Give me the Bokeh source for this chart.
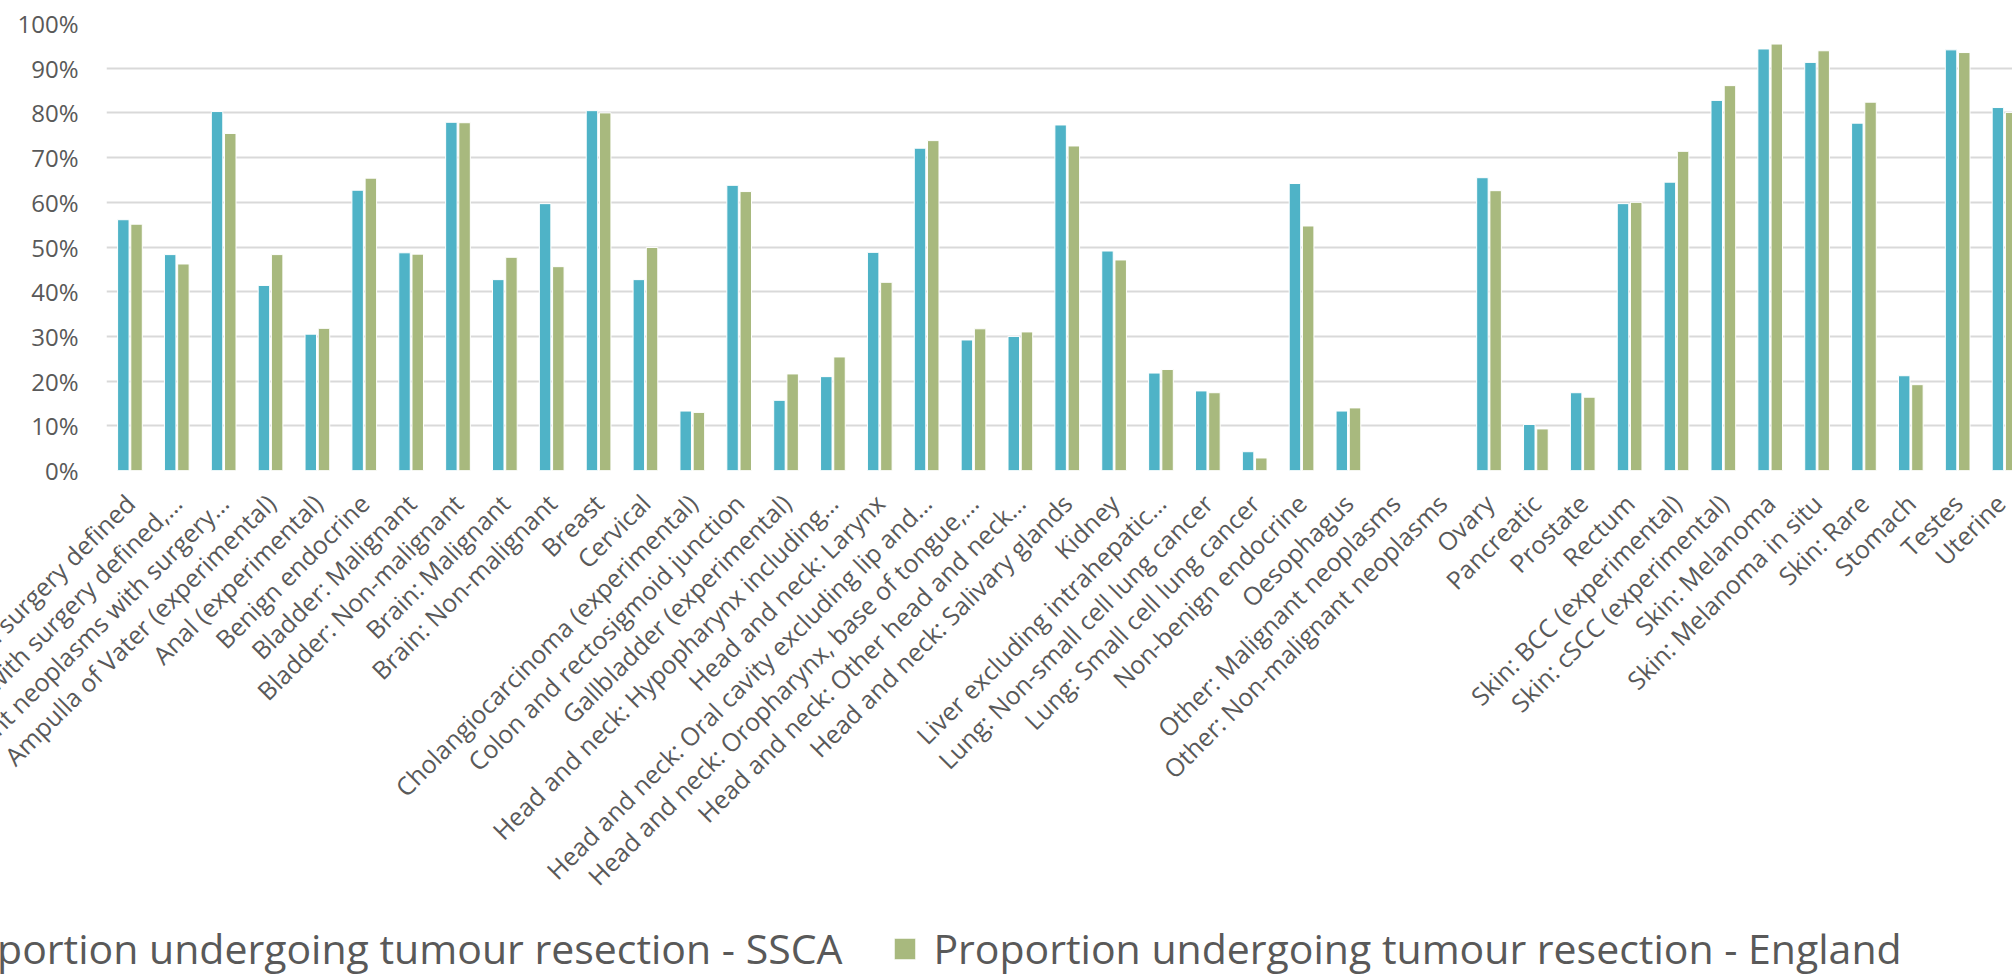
import math
from bokeh.plotting import figure
from bokeh.layouts import column
from bokeh.models import (ColumnDataSource, Range1d, FixedTicker, PrintfTickFormatter,
                          Legend, LegendItem)
from bokeh.transform import dodge
from bokeh.embed import file_html
from bokeh.resources import INLINE

categories = [
    "All neoplasms with surgery defined",
    "All neoplasms with surgery defined,\u2026",
    "All malignant neoplasms with surgery\u2026",
    "Ampulla of Vater (experimental)",
    "Anal (experimental)",
    "Benign endocrine",
    "Bladder: Malignant",
    "Bladder: Non-malignant",
    "Brain: Malignant",
    "Brain: Non-malignant",
    "Breast",
    "Cervical",
    "Cholangiocarcinoma (experimental)",
    "Colon and rectosigmoid junction",
    "Gallbladder (experimental)",
    "Head and neck: Hypopharynx including\u2026",
    "Head and neck: Larynx",
    "Head and neck: Oral cavity excluding lip and\u2026",
    "Head and neck: Oropharynx, base of tongue,\u2026",
    "Head and neck: Other head and neck\u2026",
    "Head and neck: Salivary glands",
    "Kidney",
    "Liver excluding intrahepatic\u2026",
    "Lung: Non-small cell lung cancer",
    "Lung: Small cell lung cancer",
    "Non-benign endocrine",
    "Oesophagus",
    "Other: Malignant neoplasms",
    "Other: Non-malignant neoplasms",
    "Ovary",
    "Pancreatic",
    "Prostate",
    "Rectum",
    "Skin: BCC (experimental)",
    "Skin: cSCC (experimental)",
    "Skin: Melanoma",
    "Skin: Melanoma in situ",
    "Skin: Rare",
    "Stomach",
    "Testes",
    "Uterine",
]

ssca = [56.1, 48.3, 80.3, 41.4, 30.5, 62.7, 48.7, 77.9, 42.7, 59.7,
        80.5, 42.7, 13.3, 63.8, 15.7, 21.0, 48.8, 72.1, 29.2, 30.0,
        77.3, 49.1, 21.8, 17.8, 4.2, 64.2, 13.3, None, None, 65.5,
        10.3, 17.4, 59.7, 64.5, 82.8, 94.3, 91.3, 77.7, 21.2, 94.1,
        81.2]
england = [55.1, 46.2, 75.4, 48.3, 31.8, 65.4, 48.4, 77.8, 47.7, 45.6,
           80.0, 49.9, 13.0, 62.4, 21.6, 25.4, 42.1, 73.8, 31.7, 31.0,
           72.6, 47.1, 22.6, 17.4, 2.8, 54.7, 14.0, None, None, 62.6,
           9.3, 16.4, 60.0, 71.4, 86.1, 95.4, 93.9, 82.4, 19.2, 93.5,
           80.1]

series_names = ["Proportion undergoing tumour resection - SSCA",
                "Proportion undergoing tumour resection - England"]
y_ticks = list(range(0, 101, 10))

BLUE = "#4FB3C7"
GREEN = "#A8B97E"
GRID = "#D9D9D9"
TEXT = "#595959"
FONT = "Open Sans"

xpos = [i + 0.5 for i in range(len(categories))]


def make_source(vals):
    xs, tops = [], []
    for x, v in zip(xpos, vals):
        if v is not None:
            xs.append(x)
            tops.append(v)
    return ColumnDataSource(dict(x=xs, top=tops))


src_s = make_source(ssca)
src_e = make_source(england)

W = 2012
H_MAIN = 908
H_LEG = 68
p = figure(width=W, height=H_MAIN, output_backend="svg", toolbar_location=None,
           x_range=Range1d(0, 40.67), y_range=Range1d(0, 100),
           min_border_left=106, min_border_right=0, min_border_top=23,
           min_border_bottom=438)
p.outline_line_color = None
p.background_fill_color = "white"
p.border_fill_color = "white"

bw = 0.245
r1 = p.vbar(x=dodge("x", -0.141, range=p.x_range), top="top", width=bw, bottom=0,
            source=src_s, fill_color=BLUE, line_color="white", line_width=1)
r2 = p.vbar(x=dodge("x", 0.141, range=p.x_range), top="top", width=bw, bottom=0,
            source=src_e, fill_color=GREEN, line_color="white", line_width=1)

p.xgrid.visible = False
p.ygrid.ticker = FixedTicker(ticks=y_ticks)
p.ygrid.grid_line_color = GRID
p.ygrid.grid_line_width = 2
p.ygrid.level = "underlay"

ya = p.yaxis[0]
ya.ticker = FixedTicker(ticks=y_ticks)
ya.formatter = PrintfTickFormatter(format="%d%%")
ya.axis_line_color = None
ya.major_tick_line_color = None
ya.minor_tick_line_color = None
ya.major_tick_out = 0
ya.major_tick_in = 0
ya.major_label_standoff = 28
ya.major_label_text_font = FONT
ya.major_label_text_font_size = "24px"
ya.major_label_text_color = TEXT

# a blank tick at the range start keeps the first real label in place
xa = p.xaxis[0]
xa.ticker = FixedTicker(ticks=[0.0] + xpos)
overrides = {0.0: " "}
overrides.update({x: c for x, c in zip(xpos, categories)})
xa.major_label_overrides = overrides
xa.axis_line_color = None
xa.major_tick_line_color = None
xa.minor_tick_line_color = None
xa.major_tick_out = 0
xa.major_tick_in = 0
xa.major_label_standoff = 28
xa.major_label_orientation = math.pi / 4
xa.major_label_text_font = FONT
xa.major_label_text_font_size = "25px"
xa.major_label_text_color = TEXT

# legend strip below the chart (its frame spans the whole strip)
pl = figure(width=W, height=H_LEG, output_backend="svg", toolbar_location=None,
            x_range=Range1d(0, 1), y_range=Range1d(0, 1),
            x_axis_location=None, y_axis_location=None,
            min_border_left=0, min_border_right=0, min_border_top=0,
            min_border_bottom=0)
pl.outline_line_color = None
pl.xgrid.visible = False
pl.ygrid.visible = False
p.frame_align = False
pl.frame_align = False
dummy = ColumnDataSource(dict(x=[-5.0], top=[0.0]))
l1 = pl.vbar(x="x", top="top", width=0.1, source=dummy, fill_color=BLUE,
             line_color="white", line_width=1)
l2 = pl.vbar(x="x", top="top", width=0.1, source=dummy, fill_color=GREEN,
             line_color="white", line_width=1)

legend = Legend(items=[LegendItem(label=series_names[0], renderers=[l1]),
                       LegendItem(label=series_names[1], renderers=[l2])],
                orientation="horizontal", location=(-111, 0),
                glyph_width=27, glyph_height=27, label_standoff=15, spacing=49,
                padding=0, margin=0, border_line_color=None,
                background_fill_alpha=0,
                label_text_font=FONT, label_text_font_size="41px",
                label_text_color=TEXT)
pl.add_layout(legend, "center")

layout = column(p, pl, spacing=0)
open("out.html", "w").write(file_html(layout, INLINE))
